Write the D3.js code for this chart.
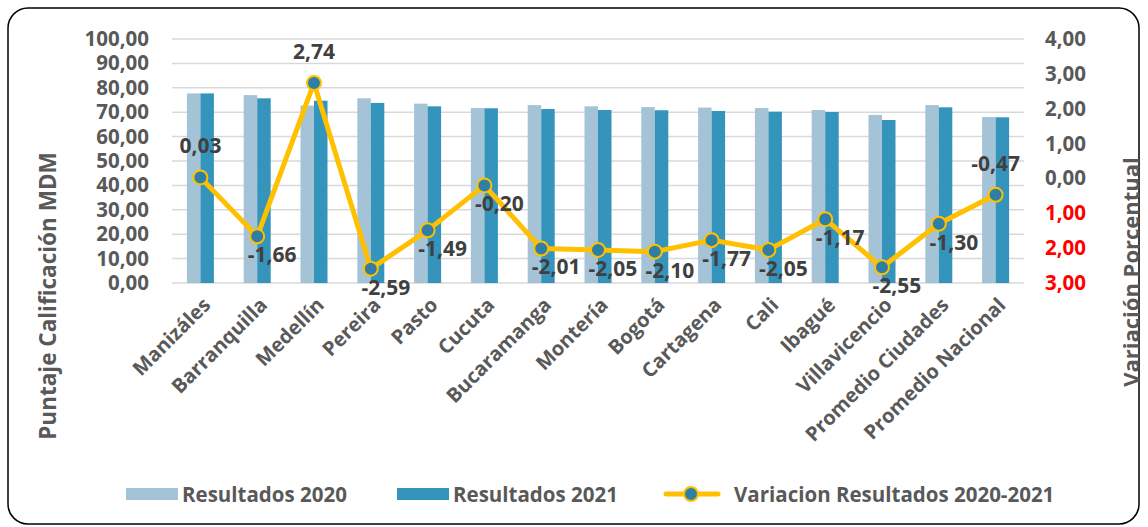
<!DOCTYPE html>
<html><head><meta charset="utf-8">
<script src="https://cdn.jsdelivr.net/npm/d3@7"></script>
<style>body{margin:0;background:#fff;} svg{display:block;}</style>
</head><body>
<script>
const categories = ["Manizáles","Barranquilla","Medellín","Pereira","Pasto","Cucuta","Bucaramanga","Montería","Bogotá","Cartagena","Cali","Ibagué","Villavicencio","Promedio Ciudades","Promedio Nacional"];
const results2020 = [77.7,77.0,72.7,75.7,73.5,71.7,72.9,72.4,72.1,71.9,71.7,70.9,68.9,72.9,68.0];
const results2021 = [77.7,75.7,74.7,73.8,72.4,71.6,71.3,70.9,70.8,70.5,70.2,70.1,66.8,72.0,67.9];
const variation = [0.03,-1.66,2.74,-2.59,-1.49,-0.20,-2.01,-2.05,-2.10,-1.77,-2.05,-1.17,-2.55,-1.30,-0.47];
const labelPlacement = ["above","below","above","below","below","below","below","below","below","below","below","below","below","below","above"];
const leftTicks = [0,10,20,30,40,50,60,70,80,90,100];
const rightTicks = [-3,-2,-1,0,1,2,3,4];
const seriesNames = ["Resultados 2020","Resultados 2021","Variacion Resultados 2020-2021"];

const W=1148,H=527;
const m={left:172,right:1024,top:39,bottom:283};
const C={light:"#A5C3D7",dark:"#3594BB",line:"#FFC000",marker:"#2E7FA3",grid:"#D9D9D9",text:"#595959",label:"#404040"};
const FONT="'Open Sans', sans-serif";
const fmt = v => Math.abs(v).toFixed(2).replace(".",",");
const fmtS = v => v.toFixed(2).replace(".",",");

const svg=d3.select("body").append("svg").attr("width",W).attr("height",H).style("font-family",FONT);
svg.append("rect").attr("x",8).attr("y",8).attr("width",1131).attr("height",516).attr("rx",20).attr("fill","#fff").attr("stroke","#000").attr("stroke-width",1.5);

const x=d3.scaleBand().domain(categories).range([m.left,m.right]).paddingInner(0).paddingOuter(0);
const yL=d3.scaleLinear().domain([0,100]).range([m.bottom,m.top]);
const yR=d3.scaleLinear().domain([-3,4]).range([m.bottom,m.top]);
const barW=13.5;

// gridlines
svg.append("g").selectAll("line").data(leftTicks).join("line")
  .attr("x1",m.left).attr("x2",m.right).attr("y1",d=>yL(d)).attr("y2",d=>yL(d))
  .attr("stroke",C.grid).attr("stroke-width",1.5);

// left axis
const axL=svg.append("g").attr("transform",`translate(${m.left-23},0)`)
  .call(d3.axisLeft(yL).tickValues(leftTicks).tickSize(0).tickPadding(0).tickFormat(fmtS));
axL.select(".domain").remove();
axL.selectAll("text").attr("fill",C.text).style("font-size","20.5px").style("font-weight","700").style("font-family",FONT);

// right axis
const axR=svg.append("g").attr("transform",`translate(1045,0)`)
  .call(d3.axisRight(yR).tickValues(rightTicks).tickSize(0).tickPadding(0).tickFormat(fmt));
axR.select(".domain").remove();
axR.selectAll("text").attr("fill",d=>d<0?"#FF0000":C.text).style("font-size","20.5px").style("font-weight","700").style("font-family",FONT);

// bars
svg.append("g").selectAll("rect").data(results2020).join("rect")
  .attr("x",(d,i)=>x(categories[i])+x.bandwidth()/2-barW).attr("width",barW)
  .attr("y",d=>yL(d)).attr("height",d=>yL(0)-yL(d)).attr("fill",C.light);
svg.append("g").selectAll("rect").data(results2021).join("rect")
  .attr("x",(d,i)=>x(categories[i])+x.bandwidth()/2).attr("width",barW)
  .attr("y",d=>yL(d)).attr("height",d=>yL(0)-yL(d)).attr("fill",C.dark);

// line
const cx=i=>x(categories[i])+x.bandwidth()/2;
svg.append("path").datum(variation)
  .attr("d",d3.line().x((d,i)=>cx(i)).y(d=>yR(d)))
  .attr("fill","none").attr("stroke",C.line).attr("stroke-width",5).attr("stroke-linejoin","round");
svg.append("g").selectAll("circle").data(variation).join("circle")
  .attr("cx",(d,i)=>cx(i)).attr("cy",d=>yR(d)).attr("r",7)
  .attr("fill",C.marker).attr("stroke",C.line).attr("stroke-width",2);

// data labels
svg.append("g").selectAll("text").data(variation).join("text")
  .attr("x",(d,i)=>labelPlacement[i]==="above"?cx(i):cx(i)+15)
  .attr("y",(d,i)=>labelPlacement[i]==="above"?yR(d)-32:yR(d)+18)
  .attr("text-anchor","middle").attr("dominant-baseline","central")
  .attr("fill",C.label).style("font-size","21px").style("font-weight","700")
  .text(d=>fmtS(d));

// x labels
svg.append("g").selectAll("text").data(categories).join("text")
  .attr("transform",(d,i)=>`translate(${cx(i)+6},${m.bottom+18}) rotate(-45)`)
  .attr("text-anchor","end").attr("dominant-baseline","central")
  .attr("fill",C.text).style("font-size","20px").style("font-weight","700")
  .text(d=>d);

// axis titles
svg.append("text").attr("transform","translate(47,296) rotate(-90)").attr("text-anchor","middle")
  .attr("dominant-baseline","central").attr("fill",C.text).style("font-size","22.5px").style("font-weight","700")
  .text("Puntaje Calificación MDM");
svg.append("text").attr("transform","translate(1130,272) rotate(-90)").attr("text-anchor","middle")
  .attr("dominant-baseline","central").attr("fill",C.text).style("font-size","22px").style("font-weight","700")
  .text("Variación Porcentual");

// legend
const lg=svg.append("g").style("font-size","20.5px").style("font-weight","700").attr("fill",C.text);
lg.append("rect").attr("x",126).attr("y",488).attr("width",52).attr("height",12).attr("fill",C.light);
lg.append("text").attr("x",182).attr("y",494).attr("dominant-baseline","central").text(seriesNames[0]);
lg.append("rect").attr("x",397).attr("y",488).attr("width",52).attr("height",12).attr("fill",C.dark);
lg.append("text").attr("x",453).attr("y",494).attr("dominant-baseline","central").text(seriesNames[1]);
lg.append("line").attr("x1",666).attr("x2",718).attr("y1",494).attr("y2",494).attr("stroke",C.line).attr("stroke-width",5).attr("stroke-linecap","round");
lg.append("circle").attr("cx",691).attr("cy",494).attr("r",7).attr("fill",C.marker).attr("stroke",C.line).attr("stroke-width",2);
lg.append("text").attr("x",734).attr("y",494).attr("dominant-baseline","central").text(seriesNames[2]);
</script>
</body></html>
